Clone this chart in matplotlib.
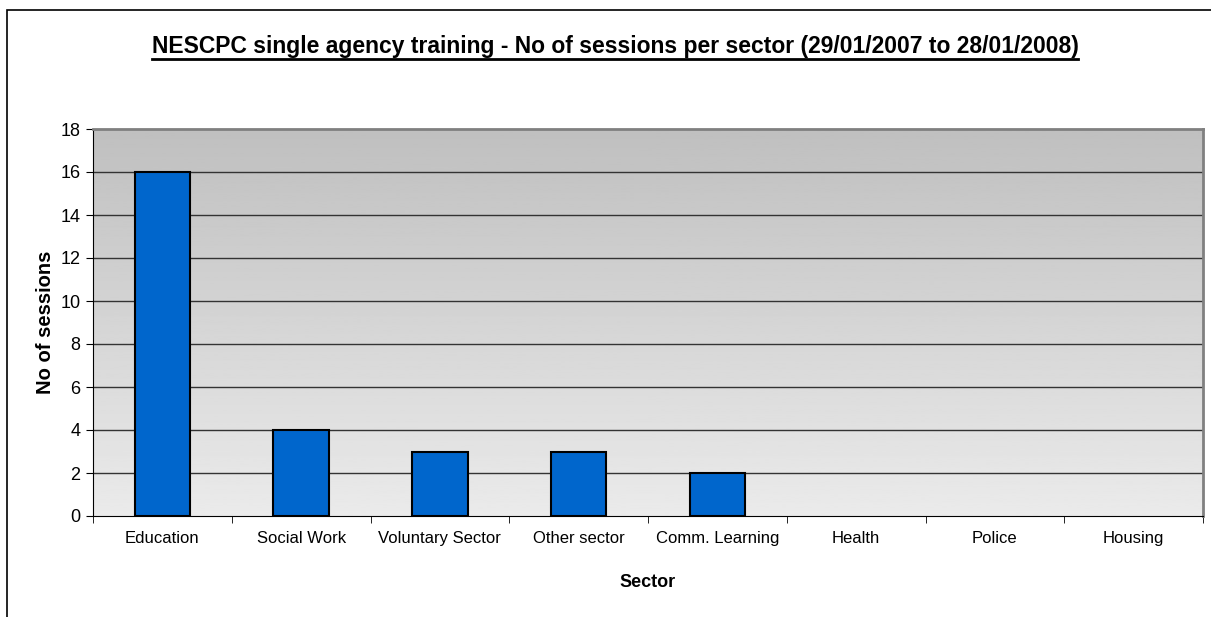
import matplotlib.pyplot as plt
import numpy as np
from matplotlib.patches import Rectangle

plt.rcParams['font.family'] = ['Liberation Sans', 'DejaVu Sans']

sectors = ['Education', 'Social Work', 'Voluntary Sector', 'Other sector',
           'Comm. Learning', 'Health', 'Police', 'Housing']
sessions = [16, 4, 3, 3, 2, 0, 0, 0]
y_ticks = [0, 2, 4, 6, 8, 10, 12, 14, 16, 18]

W, H = 1211, 617
fig = plt.figure(figsize=(W / 100, H / 100), dpi=100)
ax = fig.add_axes([93 / W, 1 - 516 / H, (1203 - 93) / W, (516 - 129) / H])

# outer chart border
fig.patches.append(Rectangle((7 / W, -0.1), 1.2, 1 - 10 / H + 0.1,
                             transform=fig.transFigure, fill=False,
                             edgecolor='black', linewidth=1.2))

n = len(sectors)
x = np.arange(n)
ax.set_xlim(-0.5, n - 0.5)
ax.set_ylim(0, 18)

# gradient background, darker at top
grad = np.linspace(0.92, 0.75, 256).reshape(-1, 1)
ax.imshow(grad, cmap='gray', vmin=0, vmax=1, aspect='auto',
          extent=[-0.5, n - 0.5, 0, 18], origin='lower', zorder=0)

for t in y_ticks[1:-1]:
    ax.axhline(t, color='#333333', linewidth=1, zorder=1)

# zero-valued bars get no outline, like the original
lws = [1.5 if v > 0 else 0 for v in sessions]
ax.bar(x, sessions, width=0.4, color='#0066CC', edgecolor='black',
       linewidth=lws, zorder=2)

ax.set_yticks(y_ticks)
ax.set_xticks(x)
ax.set_xticklabels(sectors)
ax.set_xticks(np.arange(n + 1) - 0.5, minor=True)
ax.tick_params(axis='x', which='major', length=0, pad=11, labelsize=12)
ax.tick_params(axis='x', which='minor', length=5, direction='out')
ax.tick_params(axis='y', length=5, direction='out', labelsize=13, pad=4)

for side in ['top', 'right']:
    ax.spines[side].set_color('#808080')
    ax.spines[side].set_linewidth(2)
ax.spines['left'].set_color('black')
ax.spines['bottom'].set_color('black')

ax.set_xlabel('Sector', fontsize=13, fontweight='bold', labelpad=20)
ax.set_ylabel('No of sessions', fontsize=14.5, fontweight='bold', labelpad=4)

title = fig.text(615 / W, 1 - 47 / H,
                 'NESCPC single agency training - No of sessions per sector (29/01/2007 to 28/01/2008)',
                 ha='center', va='center', fontsize=16.5, fontweight='bold')

# underline the title
fig.canvas.draw()
bb = title.get_window_extent()
fig.add_artist(plt.Line2D([bb.x0, bb.x1], [bb.y0, bb.y0],
                          transform=None, color='black', linewidth=2))

fig.savefig('out.png', dpi=100)
